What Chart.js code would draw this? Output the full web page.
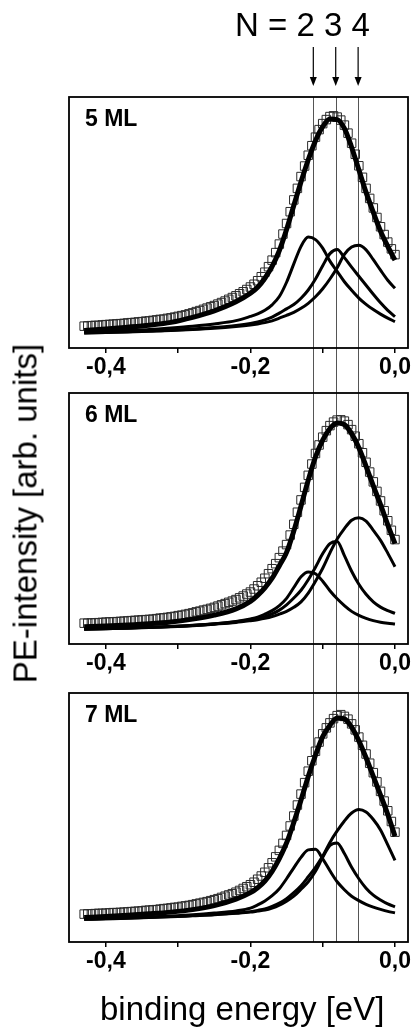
<!DOCTYPE html>
<html>
<head>
<meta charset="utf-8">
<script src="https://cdn.jsdelivr.net/npm/chart.js@4.4.0/dist/chart.umd.min.js"></script>
<style>
  body { margin: 0; background: #fff; width: 415px; height: 1029px; position: relative; overflow: hidden; font-family: "Liberation Sans", Arial, sans-serif; }
  canvas { position: absolute; left: 0; }
  #c1 { top: 0; }
  #c2 { top: 385px; }
  #c3 { top: 685px; }
  .txt { position: absolute; white-space: nowrap; color: #000; font-size: 33px; line-height: 33px; }
</style>
</head>
<body>
<canvas id="c1" width="415" height="385"></canvas>
<canvas id="c2" width="415" height="300"></canvas>
<canvas id="c3" width="415" height="344"></canvas>
<div class="txt" style="left:235px;top:8px">N = 2 3 4</div>
<div class="txt" style="left:100px;top:992px">binding energy [eV]</div>
<div class="txt" style="left:-175px;top:497px;width:400px;text-align:center;transform:rotate(-90deg)">PE-intensity [arb. units]</div>
<script>
// x range of the panels (eV)
var xMin = -0.451, xMax = 0.018;
var tickVals = [-0.4, -0.2, 0.0];
var tickText = ['-0,4', '-0,2', '0,0'];
// positions of the N = 2,3,4 guide lines
var lineE = [-0.113, -0.082, -0.051];

// energies of the fitted curves
var fitE = [-0.43,-0.40,-0.37,-0.34,-0.31,-0.28,-0.25,-0.22,
  -0.20,-0.19,-0.18,-0.17,-0.16,-0.15,-0.14,-0.13,-0.12,-0.11,-0.10,
  -0.09,-0.08,-0.07,-0.06,-0.05,-0.04,-0.03,-0.02,-0.01,0.00];
// energies of the measured points
var dataE = [-0.430,-0.425,-0.420,-0.415,-0.410,-0.405,-0.400,-0.395,-0.390,-0.385,
  -0.380,-0.375,-0.370,-0.365,-0.360,-0.355,-0.350,-0.345,-0.340,-0.335,
  -0.330,-0.325,-0.320,-0.315,-0.310,-0.305,-0.300,-0.295,-0.290,-0.285,
  -0.280,-0.275,-0.270,-0.265,-0.260,-0.255,-0.250,-0.245,-0.240,-0.235,
  -0.230,-0.225,-0.220,-0.215,-0.210,-0.205,-0.200,-0.195,-0.190,-0.185,
  -0.180,-0.175,-0.170,-0.165,-0.160,-0.155,-0.150,-0.145,-0.140,-0.135,
  -0.130,-0.125,-0.120,-0.115,-0.110,-0.105,-0.100,-0.095,-0.090,-0.085,
  -0.080,-0.075,-0.070,-0.065,-0.060,-0.055,-0.050,-0.045,-0.040,-0.035,
  -0.030,-0.025,-0.020,-0.015,-0.010,-0.005,0.000];

// 5 ML
var data5 = [8.7,8.8,8.9,9.0,9.0,9.2,9.3,9.4,9.5,9.6,9.7,9.8,10.0,10.1,10.2,10.4,10.5,10.7,10.8,11.0,
  11.2,11.4,11.5,11.8,12.0,12.3,12.6,12.9,13.2,13.6,14.0,14.5,14.9,15.4,15.9,16.4,16.9,17.5,18.1,18.7,
  19.4,20.1,20.8,21.6,22.4,23.3,24.3,25.4,26.8,28.4,30.2,32.4,35.0,38.0,41.4,45.4,49.6,54.3,59.0,63.6,
  68.3,72.5,76.8,80.6,84.0,87.0,89.4,91.0,92.2,92.5,92.0,90.8,88.8,85.6,81.6,77.2,72.6,68.0,63.6,59.6,
  55.8,52.0,48.3,45.2,42.2,39.5,37.2];
var fit5 = [7.0,7.6,8.3,9.1,10.2,12.2,14.8,18.4,21.8,24.2,27.8,32.5,38.8,47.2,56.8,66.2,75.0,82.6,88.2,
  91.2,91.0,87.5,80.0,71.0,62.0,54.0,46.5,40.5,35.0];
var n2_5 = [6.3,6.6,7.0,7.4,8.0,8.7,9.6,10.9,12.6,13.6,15.0,17.2,20.5,26.2,33.5,40.5,44.2,43.2,39.8,
  34.6,30.5,26.4,23.0,19.9,17.4,15.3,13.5,11.9,10.5];
var n3_5 = [6.0,6.2,6.5,6.8,7.1,7.6,8.2,9.0,9.8,10.4,11.2,12.3,13.9,15.6,17.3,19.8,23.1,27.5,32.8,
  37.6,39.2,36.0,32.2,28.6,25.0,21.4,18.0,15.0,12.5];
var n4_5 = [6.0,6.2,6.4,6.7,7.0,7.4,7.9,8.6,9.2,9.6,10.1,10.8,11.9,13.0,14.2,15.8,17.8,20.4,23.6,
  27.5,32.0,37.3,40.2,40.9,39.1,35.2,31.0,27.0,23.8];

// 6 ML
var data6 = [8.3,8.3,8.4,8.4,8.5,8.6,8.7,8.8,8.8,8.9,9.0,9.1,9.2,9.3,9.4,9.5,9.6,9.7,9.8,9.9,
  10.1,10.3,10.4,10.6,10.8,11.0,11.3,11.5,11.8,12.1,12.4,12.8,13.1,13.5,13.8,14.2,14.6,15.1,15.6,16.1,
  16.6,17.1,17.7,18.4,19.1,19.9,20.7,21.9,23.2,24.6,26.2,28.0,30.0,32.0,34.4,37.0,39.6,43.4,47.7,52.5,
  57.4,62.4,67.2,71.7,75.9,79.3,82.4,85.0,87.0,88.4,89.2,89.3,88.8,87.4,85.4,82.8,79.8,76.2,72.4,68.5,
  64.6,60.8,57.0,53.1,49.1,45.3,41.6];
var fit6 = [6.9,7.2,7.6,8.1,8.8,9.9,11.5,14.0,17.0,19.4,22.4,26.2,31.2,36.5,45.0,55.0,65.3,74.5,81.2,
  85.8,88.0,87.4,83.8,78.2,70.8,63.0,55.5,47.5,40.0];
var n2_6 = [6.0,6.2,6.4,6.7,7.0,7.4,8.0,9.0,10.0,10.7,11.9,13.3,15.3,18.2,22.5,26.8,28.7,28.0,25.0,
  21.2,18.0,15.3,13.0,11.4,10.2,9.3,8.7,8.3,8.0];
var n3_6 = [5.9,6.1,6.4,6.7,7.0,7.5,8.1,8.9,9.7,10.3,10.9,12.0,13.5,15.6,18.3,21.4,25.6,30.6,36.0,
  40.0,40.8,35.2,29.0,23.8,19.8,16.8,14.7,13.3,12.2];
var n4_6 = [5.9,6.1,6.3,6.6,6.9,7.3,7.9,8.6,9.3,9.7,10.2,10.9,11.9,13.0,14.6,16.8,20.3,25.0,30.2,
  36.3,41.8,46.0,49.3,50.3,49.0,45.3,41.3,36.2,30.8];

// 7 ML
var data7 = [11.2,11.3,11.3,11.4,11.5,11.5,11.6,11.7,11.8,11.8,11.9,12.0,12.1,12.2,12.3,12.4,12.5,12.7,12.8,12.9,
  13.0,13.2,13.4,13.5,13.7,13.9,14.0,14.3,14.5,14.7,15.0,15.3,15.6,15.9,16.2,16.6,17.0,17.4,17.9,18.4,
  18.9,19.4,20.0,20.7,21.5,22.2,23.0,24.0,25.2,26.5,28.0,29.8,31.8,34.2,36.8,39.6,42.8,46.6,50.6,55.0,
  59.4,64.0,68.6,72.8,76.6,80.3,83.6,86.0,88.0,89.7,90.9,91.3,90.6,89.5,87.6,85.2,82.3,79.0,75.5,71.8,
  68.0,64.3,60.5,56.6,52.7,48.4,44.1];
var fit7 = [9.8,10.2,10.7,11.3,12.0,13.0,14.6,17.2,19.8,21.8,24.5,28.4,33.5,39.8,48.0,57.0,66.5,75.0,82.5,
  87.0,90.0,89.6,86.3,80.8,74.0,66.5,59.0,51.2,42.5];
var n2_7 = [9.2,9.4,9.7,10.0,10.4,10.9,11.6,12.5,13.6,14.9,16.5,18.6,21.4,25.4,29.8,34.0,37.0,37.2,33.4,
  28.6,24.2,21.0,18.4,16.6,15.1,14.0,13.1,12.3,11.7];
var n3_7 = [9.1,9.3,9.5,9.8,10.1,10.5,10.9,11.5,12.0,12.4,12.8,13.6,14.8,16.4,18.4,21.2,24.2,28.4,34.0,
  38.8,39.8,35.5,30.0,25.4,21.6,18.8,16.9,15.3,14.1];
var n4_7 = [9.1,9.3,9.6,9.9,10.2,10.6,11.0,11.6,12.2,12.7,13.3,14.3,15.6,17.4,19.8,22.6,26.2,30.0,34.5,
  40.0,44.6,48.6,51.8,53.2,52.2,49.2,45.0,39.0,32.8];

var FONT = '"Liberation Sans", Arial, sans-serif';

function pts(xs, ys) {
  return xs.map(function (x, i) { return {x: x, y: ys[i]}; });
}

function curve(xs, ys, w) {
  return {
    data: pts(xs, ys), borderColor: '#000', borderWidth: w, pointRadius: 0,
    cubicInterpolationMode: 'monotone', fill: false
  };
}

var panelPlugin = {
  id: 'panel',
  beforeDatasetsDraw: function (chart, args, o) {
    var ctx = chart.ctx, a = chart.chartArea, x = chart.scales.x;
    ctx.save();
    ctx.strokeStyle = '#555';
    ctx.lineWidth = 1;
    lineE.forEach(function (e) {
      var px = Math.round(x.getPixelForValue(e)) + 0.5;
      ctx.beginPath();
      ctx.moveTo(px, o.first ? a.top : 0);
      ctx.lineTo(px, o.last ? a.bottom : chart.height);
      ctx.stroke();
    });
    ctx.restore();
  },
  afterDraw: function (chart, args, o) {
    var ctx = chart.ctx, a = chart.chartArea, x = chart.scales.x;
    ctx.save();
    ctx.strokeStyle = '#000';
    ctx.lineWidth = 1.8;
    ctx.strokeRect(a.left, a.top, a.right - a.left, a.bottom - a.top);
    ctx.fillStyle = '#000';
    ctx.font = 'bold 23px ' + FONT;
    ctx.textBaseline = 'alphabetic';
    ctx.fillText(o.label, a.left + 16, a.top + 29);
    if (o.first) {
      // arrows above the top panel
      ctx.lineWidth = 1.2;
      lineE.forEach(function (e) {
        var px = x.getPixelForValue(e);
        ctx.beginPath();
        ctx.moveTo(px, a.top - 50);
        ctx.lineTo(px, a.top - 18);
        ctx.stroke();
        ctx.beginPath();
        ctx.moveTo(px - 3.5, a.top - 20);
        ctx.lineTo(px + 3.5, a.top - 20);
        ctx.lineTo(px, a.top - 11);
        ctx.closePath();
        ctx.fill();
      });
    }
    ctx.restore();
  }
};

function makeChart(id, label, data, fit, n2, n3, n4, padTop, axisH, first, last) {
  return new Chart(document.getElementById(id).getContext('2d'), {
    type: 'line',
    data: {
      datasets: [
        curve(fitE, fit, 5),
        curve(fitE, n2, 3),
        curve(fitE, n3, 3),
        curve(fitE, n4, 3),
        {
          data: pts(dataE, data), showLine: false, pointStyle: 'rect', pointRadius: 6,
          pointBorderColor: '#2a2a2a', pointBorderWidth: 1, pointBackgroundColor: 'rgba(0,0,0,0)'
        }
      ]
    },
    options: {
      responsive: false,
      animation: false,
      devicePixelRatio: 1,
      layout: { padding: { left: 69, right: 5, top: padTop, bottom: 0 } },
      plugins: {
        legend: { display: false },
        tooltip: { enabled: false },
        panel: { label: label, first: first, last: last }
      },
      scales: {
        x: {
          type: 'linear', min: xMin, max: xMax,
          afterFit: function (s) { s.height = axisH; },
          border: { display: false },
          grid: { drawOnChartArea: false, drawTicks: true, tickLength: 5, color: '#000', lineWidth: 1.5 },
          ticks: {
            stepSize: 0.1, includeBounds: false, autoSkip: false, maxRotation: 0, padding: 1,
            color: '#000', font: { family: FONT, size: 23, weight: 'bold' },
            callback: function (v) {
              for (var i = 0; i < tickVals.length; i++) {
                if (Math.abs(tickVals[i] - v) < 1e-6) return tickText[i];
              }
              return '';
            }
          }
        },
        y: { display: false, min: 0, max: 100 }
      }
    },
    plugins: [panelPlugin]
  });
}

makeChart('c1', '5 ML', data5, fit5, n2_5, n3_5, n4_5, 97, 37, true, false);
makeChart('c2', '6 ML', data6, fit6, n2_6, n3_6, n4_6, 8, 41, false, false);
makeChart('c3', '7 ML', data7, fit7, n2_7, n3_7, n4_7, 8, 87, false, true);
</script>
</body>
</html>
